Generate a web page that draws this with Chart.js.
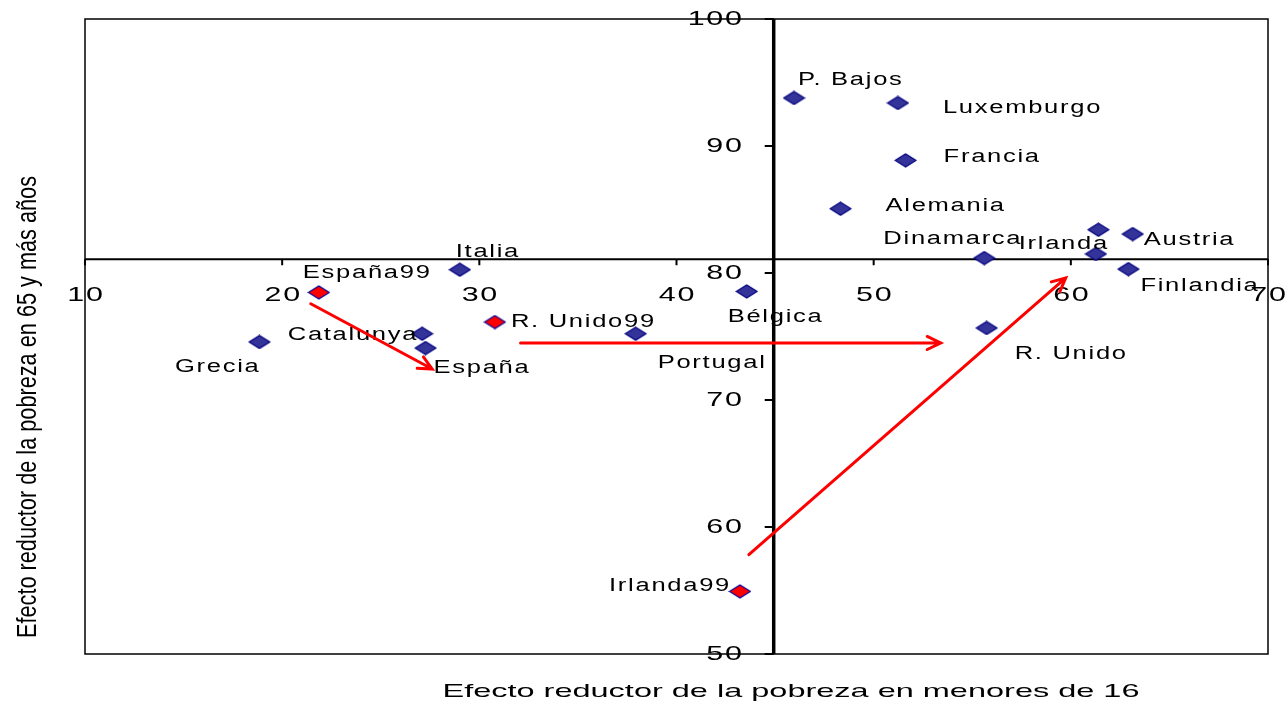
<!DOCTYPE html>
<html>
<head>
<meta charset="utf-8">
<script src="https://cdn.jsdelivr.net/npm/chart.js@4"></script>
<style>
  body { margin: 0; background: #fff; }
  canvas { display: block; }
</style>
</head>
<body>
<canvas id="chart" width="1288" height="706"></canvas>
<script>
// countries (2001 values)
const countries = ['P. Bajos', 'Luxemburgo', 'Francia', 'Alemania', '', 'Austria', 'Irlanda', 'Dinamarca',
    'Finlandia', 'R. Unido', 'Bélgica', 'Portugal', 'Italia', 'Catalunya', 'España', 'Grecia'];
const menores16 = [45.96, 51.23, 51.62, 48.32, 61.40, 63.14, 61.27, 55.61,
    62.92, 55.73, 43.56, 37.93, 29.01, 27.10, 27.27, 18.85];
const mayores65 = [93.78, 93.39, 88.87, 85.06, 83.41, 83.07, 81.50, 81.18,
    80.31, 75.67, 78.55, 75.22, 80.26, 75.22, 74.09, 74.57];

// 1999 values
const countries99 = ['España99', 'R. Unido99', 'Irlanda99'];
const menores16_99 = [21.86, 30.79, 43.22];
const mayores65_99 = [78.47, 76.14, 54.93];

// arrows (from -> to)
const arrowFromX = [21.45, 32.09, 43.67];
const arrowFromY = [77.58, 74.49, 57.82];
const arrowToX = [27.61, 53.40, 59.74];
const arrowToY = [72.44, 74.49, 79.61];

// where the axes cross
const crossX = 44.93;
const crossY = 81.09;

const xTicks = [10, 20, 30, 40, 50, 60, 70];
const yTicks = [50, 60, 70, 80, 90, 100];

const xTitle = 'Efecto reductor de la pobreza en menores de 16';
const yTitle = 'Efecto reductor de la pobreza en 65 y más años';

// label placement: [align, dx, dy] relative to the point
const labelPos = [
    ['left', 4, -18], ['left', 45, 5], ['left', 38, -3], ['left', 45, -3], ['left', 0, 0],
    ['left', 11, 6], ['right', 13, -10], ['right', 38, -19], ['left', 12, 17], ['left', 28, 26],
    ['left', -19, 26], ['left', 22, 29], ['left', -4, -18], ['right', -4, 1], ['left', 8, 20],
    ['right', 1, 25]
];
const labelPos99 = [['left', -16, -19], ['left', 16, 0], ['right', -9, -5]];

const FONT = '"Liberation Sans", Arial, sans-serif';

function diamond(fill, stroke) {
    const c = document.createElement('canvas');
    c.width = 23; c.height = 15;
    const g = c.getContext('2d');
    g.beginPath();
    g.moveTo(11.5, 1); g.lineTo(22, 7.5); g.lineTo(11.5, 14); g.lineTo(1, 7.5); g.closePath();
    g.fillStyle = fill; g.fill();
    g.lineWidth = 1.2; g.strokeStyle = stroke; g.stroke();
    return c;
}

function text(ctx, str, x, y, size, align, sx, spacing) {
    ctx.save();
    ctx.font = size + 'px ' + FONT;
    ctx.letterSpacing = (spacing || 0) + 'px';
    ctx.textBaseline = 'middle';
    ctx.textAlign = align;
    ctx.fillStyle = '#000';
    ctx.translate(x, y);
    ctx.scale(sx, 1);
    ctx.fillText(str, 0, 0);
    ctx.restore();
}

function arrow(ctx, x1, y1, x2, y2) {
    const a = Math.atan2(y2 - y1, x2 - x1);
    const h = 15, s = 0.45;
    ctx.save();
    ctx.strokeStyle = '#ff0000';
    ctx.lineWidth = 3;
    ctx.lineCap = 'round';
    ctx.beginPath();
    ctx.moveTo(x1, y1); ctx.lineTo(x2, y2);
    ctx.moveTo(x2 - h * Math.cos(a - s), y2 - h * Math.sin(a - s));
    ctx.lineTo(x2, y2);
    ctx.lineTo(x2 - h * Math.cos(a + s), y2 - h * Math.sin(a + s));
    ctx.stroke();
    ctx.restore();
}

const quadrantAxes = {
    id: 'quadrantAxes',
    beforeDatasetsDraw(chart) {
        const { ctx, chartArea: a, scales: { x, y } } = chart;
        const cx = x.getPixelForValue(crossX);
        const cy = y.getPixelForValue(crossY);
        ctx.save();
        ctx.strokeStyle = '#000';
        ctx.lineWidth = 1.5;
        ctx.strokeRect(a.left, a.top, a.right - a.left, a.bottom - a.top);

        ctx.lineWidth = 2;
        ctx.beginPath();
        ctx.moveTo(a.left, cy); ctx.lineTo(a.right, cy);
        xTicks.forEach(v => {
            const px = x.getPixelForValue(v);
            ctx.moveTo(px, cy); ctx.lineTo(px, cy + 6);
        });
        yTicks.forEach(v => {
            const py = y.getPixelForValue(v);
            ctx.moveTo(cx, py); ctx.lineTo(cx - 9, py);
        });
        ctx.stroke();

        ctx.lineWidth = 3.5;
        ctx.beginPath();
        ctx.moveTo(cx, a.top); ctx.lineTo(cx, a.bottom);
        ctx.stroke();
        ctx.restore();

        xTicks.forEach(v => text(ctx, String(v), x.getPixelForValue(v) + 1, cy + 36, 21, 'center', 1.45, 1.2));
        yTicks.forEach(v => text(ctx, String(v), cx - 30, y.getPixelForValue(v), 21, 'right', 1.45, 1.2));

        // axis titles
        ctx.save();
        ctx.font = '19px ' + FONT;
        ctx.fillStyle = '#000';
        ctx.textAlign = 'center';
        ctx.textBaseline = 'middle';
        let w = ctx.measureText(xTitle).width;
        ctx.translate(791, 692);
        ctx.scale(697 / w, 1);
        ctx.fillText(xTitle, 0, 0);
        ctx.restore();

        ctx.save();
        ctx.font = '22px ' + FONT;
        ctx.fillStyle = '#000';
        ctx.textAlign = 'center';
        ctx.textBaseline = 'middle';
        w = ctx.measureText(yTitle).width;
        ctx.translate(28, 407);
        ctx.scale(1.25, 1);
        ctx.rotate(-Math.PI / 2);
        ctx.scale(462 / w, 1);
        ctx.fillText(yTitle, 0, 0);
        ctx.restore();
    },
    afterDatasetsDraw(chart) {
        const { ctx, scales: { x, y } } = chart;
        const put = (names, xs, ys, pos) => names.forEach((n, i) => {
            if (!n) return;
            const [al, dx, dy] = pos[i];
            text(ctx, n, x.getPixelForValue(xs[i]) + dx, y.getPixelForValue(ys[i]) + dy, 18, al, 1.42, 1.2);
        });
        put(countries, menores16, mayores65, labelPos);
        put(countries99, menores16_99, mayores65_99, labelPos99);
        arrowFromX.forEach((v, i) => arrow(ctx,
            x.getPixelForValue(v), y.getPixelForValue(arrowFromY[i]),
            x.getPixelForValue(arrowToX[i]), y.getPixelForValue(arrowToY[i])));
    }
};

new Chart(document.getElementById('chart'), {
    type: 'scatter',
    data: {
        datasets: [{
            label: '2001',
            data: menores16.map((v, i) => ({ x: v, y: mayores65[i] })),
            pointStyle: diamond('#333399', '#000080'),
        }, {
            label: '1999',
            data: menores16_99.map((v, i) => ({ x: v, y: mayores65_99[i] })),
            pointStyle: diamond('#ff0000', '#000099'),
        }]
    },
    options: {
        responsive: false,
        animation: false,
        layout: { padding: { left: 85, right: 20, top: 19, bottom: 52 } },
        plugins: { legend: { display: false }, tooltip: { enabled: false } },
        scales: {
            x: { type: 'linear', min: 10, max: 70, display: false },
            y: { type: 'linear', min: 50, max: 100, display: false }
        }
    },
    plugins: [quadrantAxes]
});
</script>
</body>
</html>
